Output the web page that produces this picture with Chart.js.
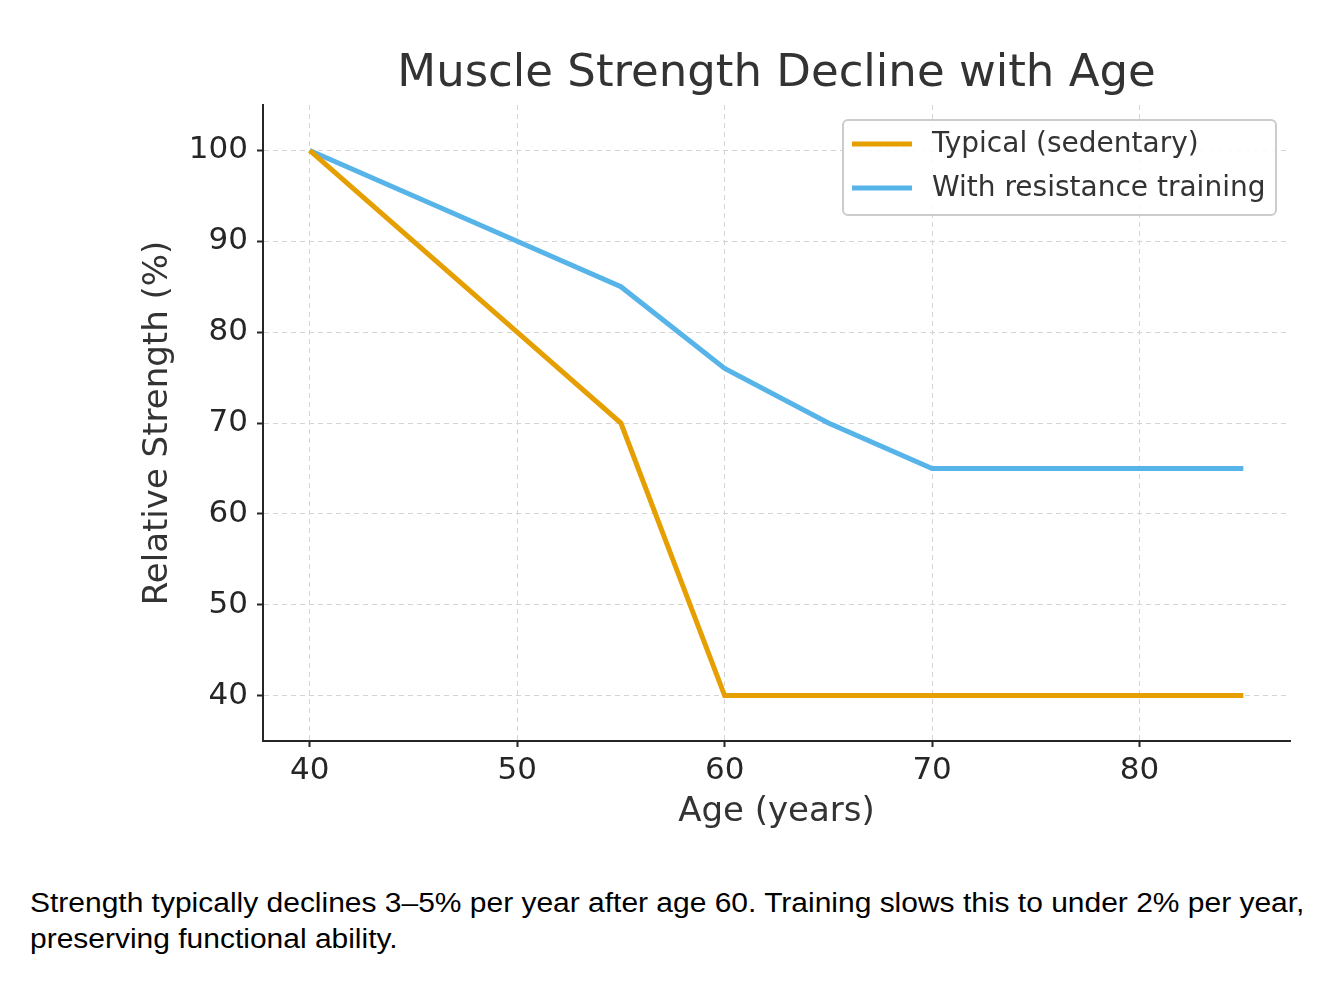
<!DOCTYPE html>
<html>
<head>
<meta charset="utf-8">
<script src="https://cdn.jsdelivr.net/npm/chart.js@4/dist/chart.umd.min.js"></script>
<style>
  html, body { margin: 0; padding: 0; background: #fff; }
  #wrap { position: relative; width: 1344px; height: 992px; }
  #chart-box { position: absolute; left: 0; top: 0; width: 1344px; height: 870px; }
  #note {
    position: absolute; left: 30px; top: 885px; width: 1170px;
    font-family: "Liberation Sans", Arial, sans-serif; font-size: 27px;
    line-height: 36px; color: #000;
    transform: scaleX(1.11); transform-origin: 0 0;
  }
</style>
</head>
<body>
<div id="wrap">
  <div id="chart-box"><canvas id="myChart" width="1344" height="870"></canvas></div>
  <div id="note">Strength typically declines 3–5% per year after age 60. Training slows this to under 2% per year, preserving functional ability.</div>
</div>
<script>
// Chart data
const ages = [40, 50, 55, 60, 65, 70, 75, 80, 85];
const typical = [100, 80, 70, 40, 40, 40, 40, 40, 40];
const training = [100, 90, 85, 76, 70, 65, 65, 65, 65];
const xTicks = [40, 50, 60, 70, 80];
const yTicks = [40, 50, 60, 70, 80, 90, 100];

const TEXT = '#333333';
const FONT = "'DejaVu Sans', sans-serif";

const toPoints = (vals) => ages.map((a, i) => ({ x: a, y: vals[i] }));

// Legend drawn inside the plot, top right, like the original
const insideLegend = {
  id: 'insideLegend',
  afterDraw(chart) {
    const { ctx, chartArea } = chart;
    const w = 433, h = 95;
    const x0 = chartArea.right - 14 - w;
    const y0 = chartArea.top + 15;
    ctx.save();
    ctx.fillStyle = 'rgba(255,255,255,0.85)';
    ctx.strokeStyle = '#cccccc';
    ctx.lineWidth = 2;
    ctx.beginPath();
    ctx.roundRect(x0, y0, w, h, 5);
    ctx.fill();
    ctx.stroke();
    ctx.font = '28px ' + FONT;
    ctx.textBaseline = 'middle';
    chart.data.datasets.forEach((ds, i) => {
      const y = y0 + 24 + i * 44;
      ctx.strokeStyle = ds.borderColor;
      ctx.lineWidth = 5;
      ctx.beginPath();
      ctx.moveTo(x0 + 9, y);
      ctx.lineTo(x0 + 69, y);
      ctx.stroke();
      ctx.fillStyle = TEXT;
      ctx.fillText(ds.label, x0 + 89, y + 1);
    });
    ctx.restore();
  }
};

const axisCommon = {
  type: 'linear',
  border: { display: true, color: '#262626', width: 2, dash: [5, 4] },
  grid: {
    color: '#d4d4d4', lineWidth: 1,
    drawTicks: true, tickLength: 6, tickColor: '#262626', tickWidth: 2,
    tickBorderDash: []
  },
  ticks: { color: '#262626', font: { family: FONT, size: 31 } },
};

const ctx = document.getElementById('myChart').getContext('2d');
const myChart = new Chart(ctx, {
  type: 'line',
  data: {
    datasets: [
      {
        label: 'Typical (sedentary)',
        data: toPoints(typical),
        borderColor: '#E69F00',
        borderWidth: 5,
        pointRadius: 0,
        tension: 0,
      },
      {
        label: 'With resistance training',
        data: toPoints(training),
        borderColor: '#56B4E9',
        borderWidth: 5,
        pointRadius: 0,
        tension: 0,
      }
    ]
  },
  options: {
    responsive: false,
    animation: false,
    layout: { padding: { top: 0, right: 54, bottom: 0, left: 0 } },
    plugins: {
      legend: { display: false },
      tooltip: { enabled: false },
      title: {
        display: true,
        fullSize: false,
        text: 'Muscle Strength Decline with Age',
        color: TEXT,
        font: { family: FONT, size: 45, weight: 'normal' },
        padding: { top: 47, bottom: 4 }
      }
    },
    scales: {
      x: {
        ...axisCommon,
        min: 37.75,
        max: 87.25,
        afterBuildTicks: (axis) => { axis.ticks = xTicks.map(v => ({ value: v })); },
        afterFit: (axis) => { axis.height = 129; },
        ticks: { ...axisCommon.ticks, padding: 5, maxRotation: 0 },
        title: {
          display: true, text: 'Age (years)', color: TEXT,
          font: { family: FONT, size: 34 }, padding: { top: 0, bottom: 37 }
        }
      },
      y: {
        ...axisCommon,
        min: 35,
        max: 105,
        afterBuildTicks: (axis) => { axis.ticks = yTicks.map(v => ({ value: v })); },
        afterFit: (axis) => { axis.width = 263; },
        ticks: { ...axisCommon.ticks, padding: 9 },
        title: {
          display: true, text: 'Relative Strength (%)', color: TEXT,
          font: { family: FONT, size: 34 }, padding: { top: 138, bottom: 0 }
        }
      }
    }
  },
  plugins: [insideLegend]
});
</script>
</body>
</html>
